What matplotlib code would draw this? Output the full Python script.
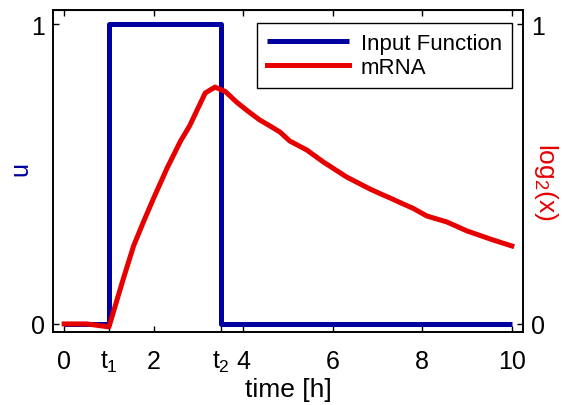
import matplotlib

matplotlib.use("Agg")

import matplotlib.pyplot as plt

plt.rcParams["font.family"] = ["Liberation Sans", "DejaVu Sans"]
plt.rcParams["mathtext.fontset"] = "custom"
plt.rcParams["mathtext.rm"] = "Liberation Sans"
plt.rcParams["mathtext.it"] = "Liberation Sans"

# input function (step between t1 and t2)
input_t = [0, 1, 1, 3.5, 3.5, 10]
input_u = [0, 0, 1, 1, 0, 0]

# mRNA response
mrna_t = [0, 0.5, 1.0, 1.14, 1.32, 1.55, 1.77, 2.0, 2.3, 2.6, 2.8, 3.15, 3.37,
          3.6, 3.85, 4.1, 4.37, 4.6, 4.82, 5.04, 5.42, 5.79, 6.31, 6.83, 7.05,
          7.28, 7.5, 7.8, 8.1, 8.55, 9.0, 9.58, 10.0]
mrna_y = [0, 0, -0.01, 0.06, 0.15, 0.26, 0.34, 0.42, 0.52, 0.61, 0.66, 0.77,
          0.79, 0.775, 0.74, 0.71, 0.68, 0.66, 0.64, 0.61, 0.58, 0.54, 0.49,
          0.45, 0.435, 0.42, 0.405, 0.385, 0.36, 0.34, 0.31, 0.28, 0.26]

xtick_pos = [0, 1, 2, 3.5, 4, 6, 8, 10]
xtick_lab = ["0", "$t_1$", "2", "$t_2$", "4", "6", "8", "10"]
top_ticks = [0, 2, 4, 6, 8, 10]

blue = "#0000a0"
red = "#e60000"

fig = plt.figure(figsize=(5.62, 4.06), dpi=100)
ax = fig.add_axes([0.0943, 0.1798, 0.8363, 0.7931])
ax2 = ax.twinx()

l1, = ax.plot(input_t, input_u, color=blue, lw=3.6, solid_joinstyle="round",
              solid_capstyle="butt", label="Input Function")
l2, = ax2.plot(mrna_t, mrna_y, color=red, lw=3.6, solid_joinstyle="round",
               label="mRNA")

for a in (ax, ax2):
    a.set_xlim(-0.25, 10.25)
    a.set_ylim(-0.027, 1.047)
    a.set_yticks([0, 1])
    a.set_yticklabels(["0", "1"])
    a.tick_params(direction="in", length=4, width=1, labelsize=18, pad=6)
    for s in a.spines.values():
        s.set_linewidth(1.2)

ax.set_xticks(xtick_pos)
ax.set_xticklabels(xtick_lab)
ax.tick_params(axis="x", pad=12)
sec = ax.secondary_xaxis("top")
sec.set_xticks(top_ticks)
sec.tick_params(direction="in", length=4, width=1, labeltop=False)

ax.set_xlabel("time [h]", fontsize=19, va="top")
ax.xaxis.set_label_coords(0.5, -0.14)
ax.set_ylabel("u", color=blue, fontsize=18, va="center", ha="center")
ax.yaxis.set_label_coords(-0.07, 0.51)
ax2.set_ylabel("log$_2$(x)", color=red, fontsize=19, rotation=270,
               va="center", ha="center")
ax2.yaxis.set_label_coords(1.05, 0.47)

leg = ax2.legend([l1, l2], ["Input Function", "mRNA"], loc="upper right",
                 bbox_to_anchor=(0.977, 0.96), fontsize=16, handlelength=3.7,
                 handletextpad=0.55, labelspacing=0.15, borderaxespad=0,
                 fancybox=False, framealpha=1, edgecolor="black",
                 borderpad=0.45)
leg.get_frame().set_linewidth(1)

plt.savefig("out.png", dpi=100)
